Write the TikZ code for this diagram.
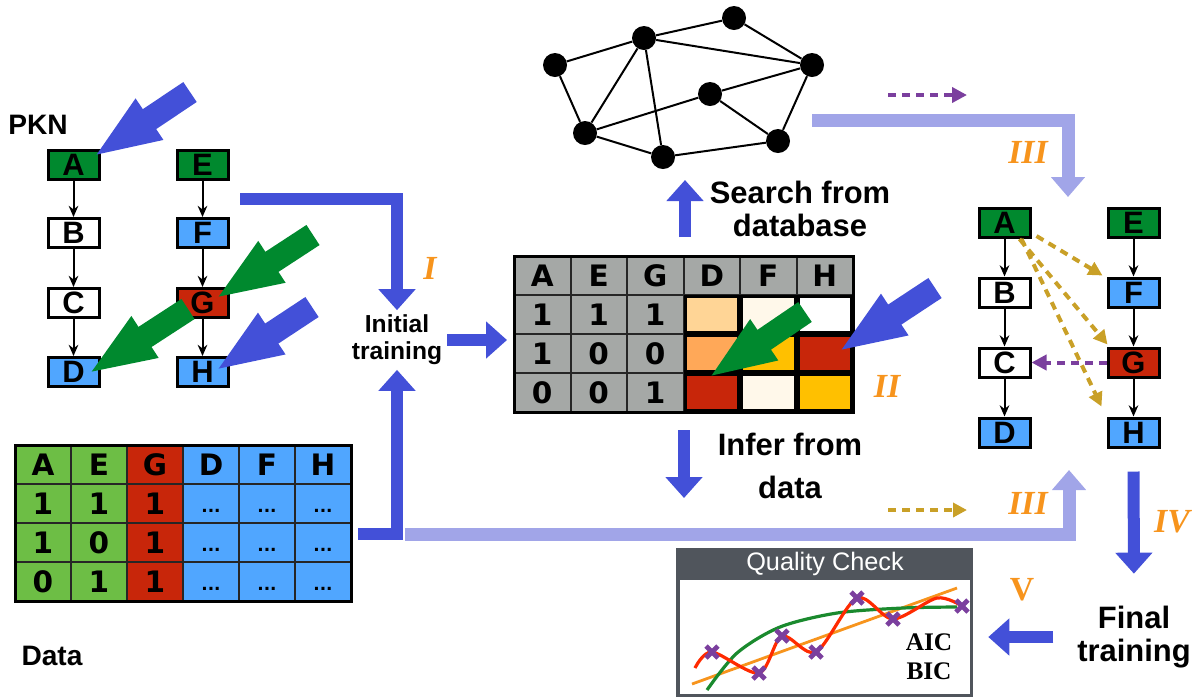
\documentclass[tikz,border=0pt]{standalone}
\usepackage{fontspec}
\setmainfont{Liberation Sans}
\newfontfamily\verdfont{DejaVu Sans}
\newfontfamily\timesfont{Liberation Serif}
\usetikzlibrary{arrows.meta,calc}

\definecolor{pkngreen}{RGB}{0,137,46}
\definecolor{datgreen}{RGB}{109,190,69}
\definecolor{pknblue}{RGB}{80,166,255}
\definecolor{pknred}{RGB}{200,38,10}
\definecolor{flowblue}{RGB}{67,80,216}
\definecolor{lavender}{RGB}{161,165,232}
\definecolor{numorange}{RGB}{247,148,29}
\definecolor{dashgold}{RGB}{201,160,39}
\definecolor{dashpurple}{RGB}{123,63,158}
\definecolor{cellgray}{RGB}{165,168,166}
\definecolor{lightorange}{RGB}{255,213,150}
\definecolor{midorange}{RGB}{255,168,88}
\definecolor{cream}{RGB}{255,248,234}
\definecolor{gold}{RGB}{255,192,0}
\definecolor{qcgray}{RGB}{80,85,92}
\definecolor{fitred}{RGB}{255,42,0}
\definecolor{fitgreen}{RGB}{26,138,46}
\definecolor{fitorange}{RGB}{247,148,29}

\tikzset{
  pknbox/.style={draw, line width=0.75mm, minimum width=12.75mm, minimum height=7.25mm,
    inner sep=0pt, font=\bfseries\fontsize{22}{22}\selectfont},
  pknedge/.style={line width=0.5mm, -{Stealth[length=2.8mm,width=2.4mm]}},
  fatarrow/.style={line width=6mm, -{Triangle[length=17mm,width=11mm]}},
  flowarrow/.style={flowblue, line width=3mm, line join=miter, -{Triangle[length=5.25mm,width=9mm]}},
  softarrow/.style={lavender, line width=3.25mm, line join=miter, -{Triangle[length=5mm,width=8.25mm]}},
  golddash/.style={dashgold, line width=1mm, dash pattern=on 2mm off 1.5mm, -{Triangle[length=3.5mm,width=3.5mm]}},
  purpledash/.style={dashpurple, line width=1mm, dash pattern=on 2mm off 1.5mm, -{Triangle[length=3.75mm,width=3.75mm]}},
  tabtxt/.style={inner sep=0pt, font=\verdfont\bfseries\fontsize{21}{21}\selectfont},
  dottxt/.style={inner sep=0pt, font=\verdfont\bfseries\fontsize{12}{12}\selectfont},
  gridline/.style={line width=0.5mm, black!85},
  tabframe/.style={line width=0.75mm},
  lbltxt/.style={font=\bfseries\fontsize{20}{20}\selectfont},
  flowtxt/.style={align=center, font=\bfseries\fontsize{22}{24}\selectfont},
  numtxt/.style={numorange, font=\timesfont\bfseries\itshape\fontsize{24}{24}\selectfont},
  netdot/.style={circle, fill=black, minimum size=6mm, inner sep=0pt},
  netedge/.style={line width=0.5mm},
  qcbox/.style={fill=qcgray, minimum width=74.25mm, minimum height=37.25mm, inner sep=0pt},
  qccross/.style={dashpurple, line width=1.2mm},
}

\begin{document}
\begin{tikzpicture}[x=0.25mm, y=-0.25mm]
    \useasboundingbox (0,0) rectangle (1201,698);

    % Draw the prior knowledge network
    \node[lbltxt] (pkn) at (38,125) {PKN};
    \node[pknbox, fill=pkngreen] (a1) at (73.5,164.5) {A};
    \node[pknbox, fill=white] (b1) at (73.5,233) {B};
    \node[pknbox, fill=white] (c1) at (73.5,303) {C};
    \node[pknbox, fill=pknblue] (d1) at (73.5,372) {D};
    \node[pknbox, fill=pkngreen] (e1) at (202.5,164.5) {E};
    \node[pknbox, fill=pknblue] (f1) at (202.5,233) {F};
    \node[pknbox, fill=pknred] (g1) at (202.5,303) {G};
    \node[pknbox, fill=pknblue] (h1) at (202.5,372) {H};
    \draw[pknedge] (a1) -- (b1);
    \draw[pknedge] (b1) -- (c1);
    \draw[pknedge] (c1) -- (d1);
    \draw[pknedge] (e1) -- (f1);
    \draw[pknedge] (f1) -- (g1);
    \draw[pknedge] (g1) -- (h1);

    % Draw the pointers on the network
    \draw[fatarrow, flowblue] (190,92) -- (93,157);
    \draw[fatarrow, pkngreen] (313,235) -- (215,299);
    \draw[fatarrow, pkngreen] (188,309) -- (88,374);
    \draw[fatarrow, flowblue] (312,307) -- (215,371);

    % Draw the data table
    \foreach \c/\col [count=\i from 0] in {A/datgreen,E/datgreen,G/pknred,D/pknblue,F/pknblue,H/pknblue} {
        \fill[\col] (15+56*\i,445) rectangle ++(56,156);
        \node[tabtxt] (dh\i) at (43+56*\i,464.5) {\c};
    }
    \foreach \i in {1,...,5} \draw[gridline] (15+56*\i,445) -- ++(0,156);
    \foreach \j in {1,2,3} \draw[gridline] (15,445+39*\j) -- ++(336,0);
    \draw[tabframe] (15,445) rectangle (351,601);
    \foreach \a/\b [count=\j] in {1/1,1/0,0/1} {
        \node[tabtxt] (da\j) at (43,464.5+39*\j) {\a};
        \node[tabtxt] (db\j) at (99,464.5+39*\j) {\b};
        \node[tabtxt] (dg\j) at (155,464.5+39*\j) {1};
        \foreach \i in {3,4,5}
            \node[dottxt] (dd\j\i) at (43+56*\i,472+39*\j) {...};
    }
    \node[lbltxt] (data) at (52,656) {Data};

    % Draw the inferred matrix
    \fill[cellgray] (514,256) rectangle (853,412);
    \foreach \i in {1,...,5} \draw[gridline] (514+56.5*\i,256) -- ++(0,156);
    \foreach \j in {1,2,3} \draw[gridline] (514,256+39*\j) -- ++(339,0);
    \draw[tabframe] (514,256) rectangle (853,412);
    \foreach \i/\j/\c in {3/1/lightorange,4/1/cream,5/1/white,3/2/midorange,4/2/gold,5/2/pknred,3/3/pknred,4/3/cream,5/3/gold}
        \filldraw[fill=\c, line width=0.75mm] (514+56.5*\i+1.5,256+39*\j+1.5) rectangle ++(53.5,36);
    \foreach \c [count=\i from 0] in {A,E,G,D,F,H}
        \node[tabtxt] (mh\i) at (542.25+56.5*\i,275.5) {\c};
    \foreach \a/\b/\g [count=\j] in {1/1/1,1/0/0,0/0/1} {
        \node[tabtxt] (ma\j) at (542.25,275.5+39*\j) {\a};
        \node[tabtxt] (mb\j) at (598.75,275.5+39*\j) {\b};
        \node[tabtxt] (mg\j) at (655.25,275.5+39*\j) {\g};
    }
    \draw[fatarrow, pkngreen] (805,312) -- (708,378);
    \draw[fatarrow, flowblue] (935,288) -- (838,352);

    % Draw the database network
    \node[netdot] (n1) at (555,65) {};
    \node[netdot] (n2) at (644,38) {};
    \node[netdot] (n3) at (734,18) {};
    \node[netdot] (n4) at (812,65) {};
    \node[netdot] (n5) at (710,94) {};
    \node[netdot] (n6) at (585,133) {};
    \node[netdot] (n7) at (663,157) {};
    \node[netdot] (n8) at (778,141) {};
    \draw[netedge] (n1) -- (n2);
    \draw[netedge] (n2) -- (n3);
    \draw[netedge] (n3) -- (n4);
    \draw[netedge] (n2) -- (n4);
    \draw[netedge] (n1) -- (n6);
    \draw[netedge] (n2) -- (n6);
    \draw[netedge] (n2) -- (n7);
    \draw[netedge] (n6) -- (n5);
    \draw[netedge] (n5) -- (n4);
    \draw[netedge] (n6) -- (n7);
    \draw[netedge] (n5) -- (n8);
    \draw[netedge] (n7) -- (n8);
    \draw[netedge] (n8) -- (n4);

    % Draw the refined network
    \node[pknbox, fill=pkngreen] (a2) at (1004.5,223) {A};
    \node[pknbox, fill=white] (b2) at (1004.5,292.5) {B};
    \node[pknbox, fill=white] (c2) at (1004.5,362.5) {C};
    \node[pknbox, fill=pknblue] (d2) at (1004.5,432.5) {D};
    \node[pknbox, fill=pkngreen] (e2) at (1133.5,223) {E};
    \node[pknbox, fill=pknblue] (f2) at (1133.5,292.5) {F};
    \node[pknbox, fill=pknred] (g2) at (1133.5,362.5) {G};
    \node[pknbox, fill=pknblue] (h2) at (1133.5,432.5) {H};
    \draw[pknedge] (a2) -- (b2);
    \draw[pknedge] (b2) -- (c2);
    \draw[pknedge] (c2) -- (d2);
    \draw[pknedge] (e2) -- (f2);
    \draw[pknedge] (f2) -- (g2);
    \draw[pknedge] (g2) -- (h2);
    \draw[golddash] ($(a2.south east)+(5,-3)$) -- ($(f2.north west)+(-4,-1)$);
    \draw[golddash] ($(a2.south)+(15,0)$) -- ($(g2.north west)+(1,-2)$);
    \draw[golddash] ($(a2.south)+(17,0)$) -- ($(h2.north west)+(-5,-10)$);
    \draw[purpledash] (g2) -- (c2);

    % Draw the step labels
    \node[flowtxt, font=\bfseries\fontsize{17.5}{19}\selectfont] (init) at (397,340) {Initial\\training};
    \node[flowtxt] (search) at (800,209) {Search from\\database};
    \node[flowtxt, font=\bfseries\fontsize{22}{30}\selectfont] (infer) at (790,466) {Infer from\\data};
    \node[flowtxt] (final) at (1134,637) {Final\\training};

    % Draw the flow between the steps
    \coordinate (pknout) at (240,199);
    \coordinate (datout) at (358,534);
    \coordinate (datmid) at (405,534);
    \coordinate (matin) at (507,337);
    \coordinate (mattop) at (685,237);
    \coordinate (netbot) at (685,180);
    \coordinate (matbot) at (684,430);
    \coordinate (infertip) at (684,498);
    \coordinate (netout) at (812,120);
    \coordinate (pkntop) at (1068,197);
    \coordinate (pknbot) at (1069,470);
    \draw[softarrow] (netout) -| (pkntop);
    \draw[softarrow] (datmid) -| (pknbot);
    \draw[flowarrow] (pknout) -| (init.north);
    \draw[flowarrow] (datout) -| (init.south);
    \draw[flowarrow] (init.east) -- (init.east -| matin);
    \draw[flowarrow] (mattop) -- (netbot);
    \draw[flowarrow] (matbot) -- (infertip);
    \draw[flowarrow, shorten <=5.75mm, shorten >=6.75mm] (h2.south) -- (final.north);
    \draw[purpledash] (888,95) -- (967,95);
    \draw[golddash] (888,510) -- (967,510);

    % Draw the quality check
    \node[qcbox] (qc) at (824.5,622.5) {};
    \fill[white] (679.5,580) rectangle (969.5,694);
    \node[white, font=\fontsize{18}{18}\selectfont] (qctitle) at (825,564) {Quality Check};
    \draw[fitorange, line width=0.7mm] (692,684) -- (957,588);
    \draw[fitgreen, line width=0.8mm] plot[smooth] coordinates {(707,690) (737,653) (780,627) (837,613) (903,608) (957,607)};
    \draw[fitred, line width=0.8mm] plot[smooth] coordinates {(695,668) (712,652) (759,673) (782,636) (816,652) (857,598) (893,619) (937,598) (962,606)};
    \foreach \x/\y in {712/652,759/673,782/636,816/652,857/598,893/619,962/606}
        \draw[qccross] (\x-6,\y-6) -- (\x+6,\y+6) (\x-6,\y+6) -- (\x+6,\y-6);
    \node[align=center, font=\timesfont\bfseries\fontsize{18}{20.5}\selectfont] (aic) at (929,657) {AIC\\BIC};
    \draw[flowarrow, shorten <=4.75mm, shorten >=3.75mm] (final.west) -- (final.west -| qc.east);

    % Draw the step numbers
    \node[numtxt] (num1) at (430,268) {I};
    \node[numtxt] (num2) at (887,386) {II};
    \node[numtxt] (num3a) at (1028,152) {III};
    \node[numtxt] (num3b) at (1028,503) {III};
    \node[numtxt] (num4) at (1172,522) {IV};
    \node[numtxt, font=\timesfont\bfseries\fontsize{24}{24}\selectfont] (num5) at (1022,590) {V};
\end{tikzpicture}
\end{document}
